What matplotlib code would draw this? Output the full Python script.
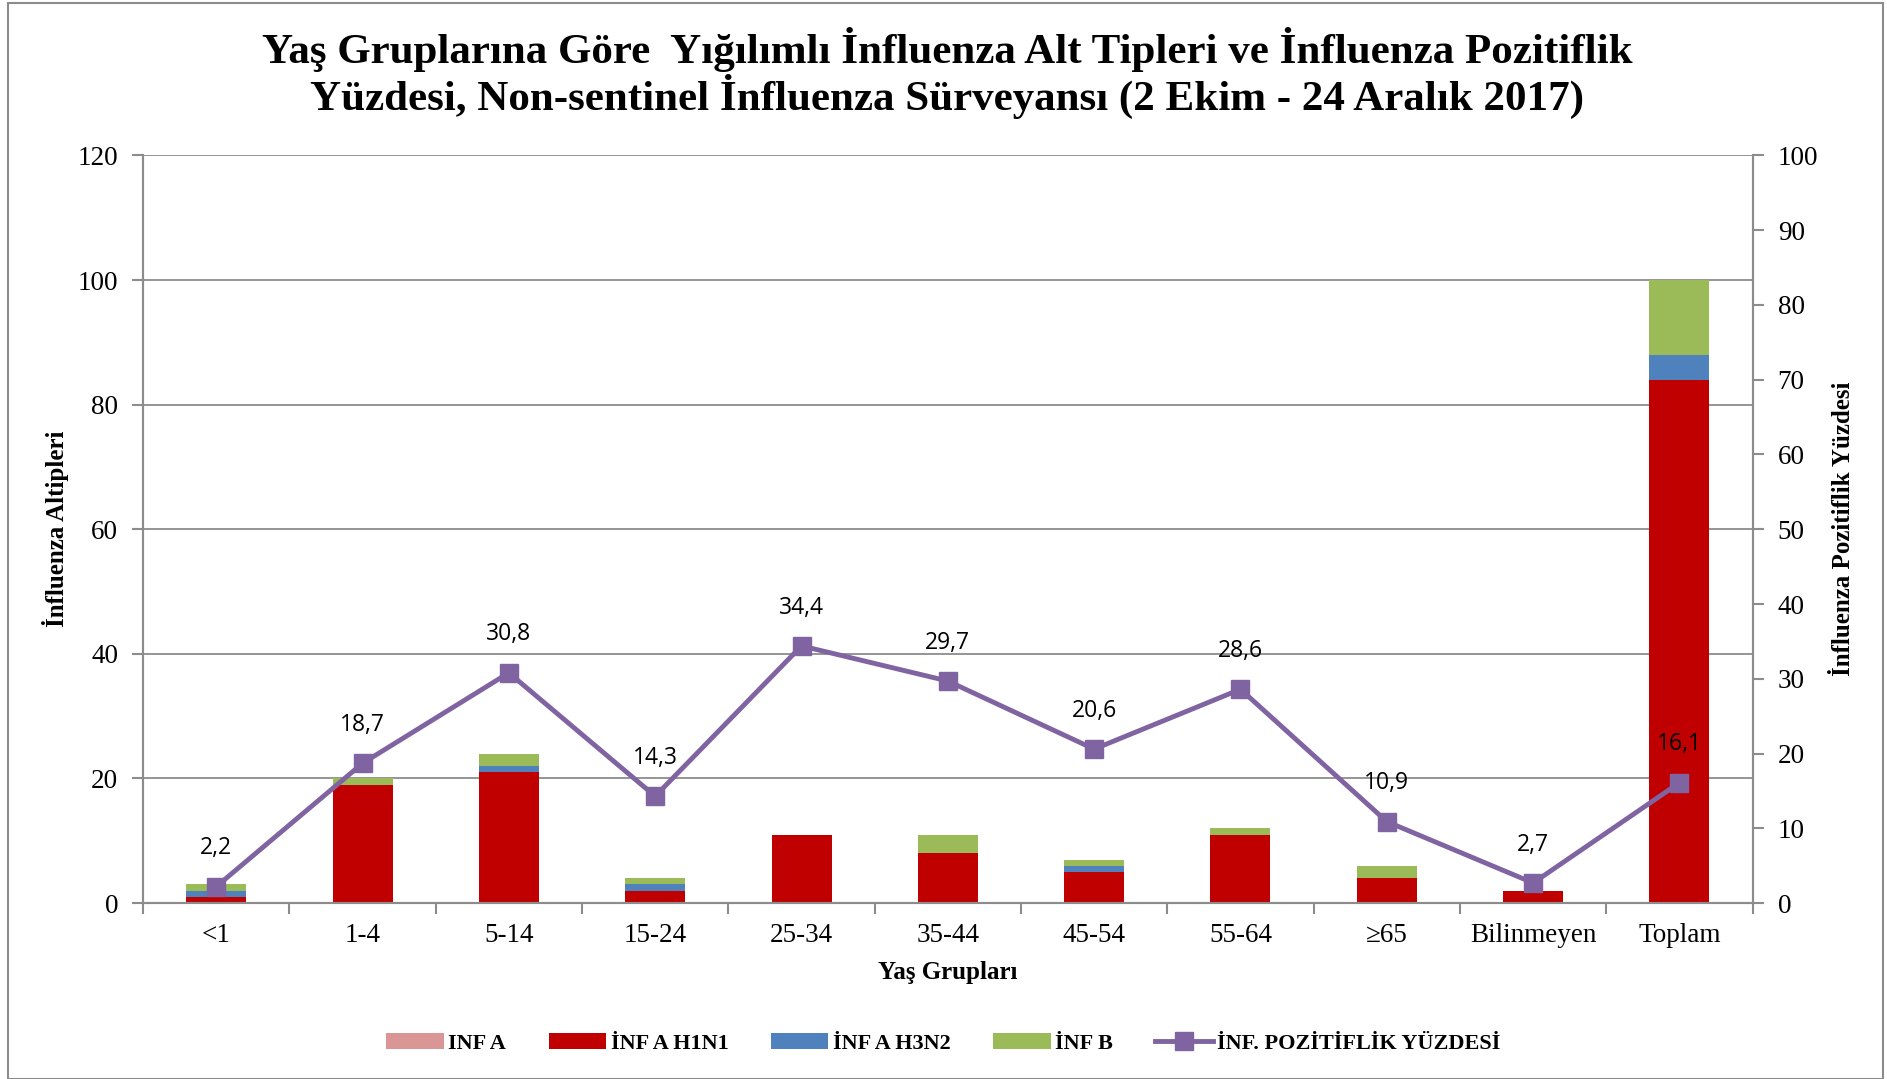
import numpy as np
import matplotlib.pyplot as plt
from matplotlib.patches import Rectangle

# veriler
gruplar = ['<1', '1-4', '5-14', '15-24', '25-34', '35-44', '45-54', '55-64', '≥65', 'Bilinmeyen', 'Toplam']
inf_a = [0, 0, 0, 0, 0, 0, 0, 0, 0, 0, 0]
inf_a_h1n1 = [1, 19, 21, 2, 11, 8, 5, 11, 4, 2, 84]
inf_a_h3n2 = [1, 0, 1, 1, 0, 0, 1, 0, 0, 0, 4]
inf_b = [1, 1, 2, 1, 0, 3, 1, 1, 2, 0, 12]
pozitiflik = [2.2, 18.7, 30.8, 14.3, 34.4, 29.7, 20.6, 28.6, 10.9, 2.7, 16.1]

serif = 'Liberation Serif'
gri = '#8c8c8c'

fig = plt.figure(figsize=(18.87, 10.79), dpi=100)
ax = fig.add_axes([0.0758, 0.163, 0.853, 0.693])
ax2 = ax.twinx()

x = np.arange(len(gruplar))
w = 0.41
alt = np.zeros(len(gruplar))
seriler = [(inf_a, '#D99694', 'INF A'),
           (inf_a_h1n1, '#C00000', 'İNF A H1N1'),
           (inf_a_h3n2, '#4F81BD', 'İNF A H3N2'),
           (inf_b, '#9BBB59', 'İNF B')]
for vals, renk, ad in seriler:
    ax.bar(x, vals, w, bottom=alt, color=renk, label=ad, zorder=2)
    alt += np.array(vals)

ax2.plot(x, pozitiflik, color='#8064A2', lw=3.5, marker='s', markersize=13,
         label='İNF. POZİTİFLİK YÜZDESİ', zorder=3)
for xi, p in zip(x, pozitiflik):
    ax2.annotate(f'{p:.1f}'.replace('.', ','), (xi, p), xytext=(0, 19),
                 textcoords='offset points', ha='center', va='bottom',
                 fontsize=16.5, family='Open Sans')

ax.set_xlim(-0.5, len(gruplar) - 0.5)
ax.set_ylim(0, 120)
ax.set_yticks(range(0, 121, 20))
ax2.set_ylim(0, 100)
ax2.set_yticks(range(0, 101, 10))
ax.set_xticks(x)
ax.set_xticklabels(gruplar)
ax.set_xticks(np.arange(-0.5, len(gruplar), 1), minor=True)
ax.tick_params(axis='x', which='major', length=0, pad=14)
ax.tick_params(axis='x', which='minor', length=8, color=gri, width=1.5)
ax.tick_params(axis='y', length=8, color=gri, width=1.5, pad=10)
ax2.tick_params(axis='y', length=8, color=gri, width=1.5, pad=10)
ax.grid(axis='y', color=gri, lw=1.3, zorder=0)
ax.set_axisbelow(True)

for a in (ax, ax2):
    for t in a.get_xticklabels() + a.get_yticklabels():
        t.set_fontfamily(serif)
        t.set_fontsize(19.5)
    for s in a.spines.values():
        s.set_color(gri)
        s.set_linewidth(1.5)
ax.spines['top'].set_visible(False)
ax2.spines['top'].set_visible(False)

ax.set_xlabel('Yaş Grupları', family=serif, fontsize=18, fontweight='bold', labelpad=10)
ax.set_ylabel('İnfluenza Altipleri', family=serif, fontsize=18, fontweight='bold', labelpad=6)
ax2.set_ylabel('İnfluenza Pozitiflik Yüzdesi', family=serif, fontsize=18, fontweight='bold', labelpad=10)

fig.suptitle('Yaş Gruplarına Göre  Yığılımlı İnfluenza Alt Tipleri ve İnfluenza Pozitiflik\n'
             'Yüzdesi, Non-sentinel İnfluenza Sürveyansı (2 Ekim - 24 Aralık 2017)',
             x=0.502, y=0.975, family=serif, fontsize=31, fontweight='bold', linespacing=1.05)

h1, l1 = ax.get_legend_handles_labels()
h2, l2 = ax2.get_legend_handles_labels()
fig.legend(h1 + h2, l1 + l2, loc='center', bbox_to_anchor=(0.5, 0.033), ncol=5,
           frameon=False, prop={'family': serif, 'weight': 'bold', 'size': 16},
           handlelength=2.6, columnspacing=1.9, handletextpad=0.2)

fig.patches.append(Rectangle((0.004, 0.0), 0.994, 0.997, transform=fig.transFigure,
                             fill=False, edgecolor=gri, lw=1.5))

plt.savefig('out.png')
